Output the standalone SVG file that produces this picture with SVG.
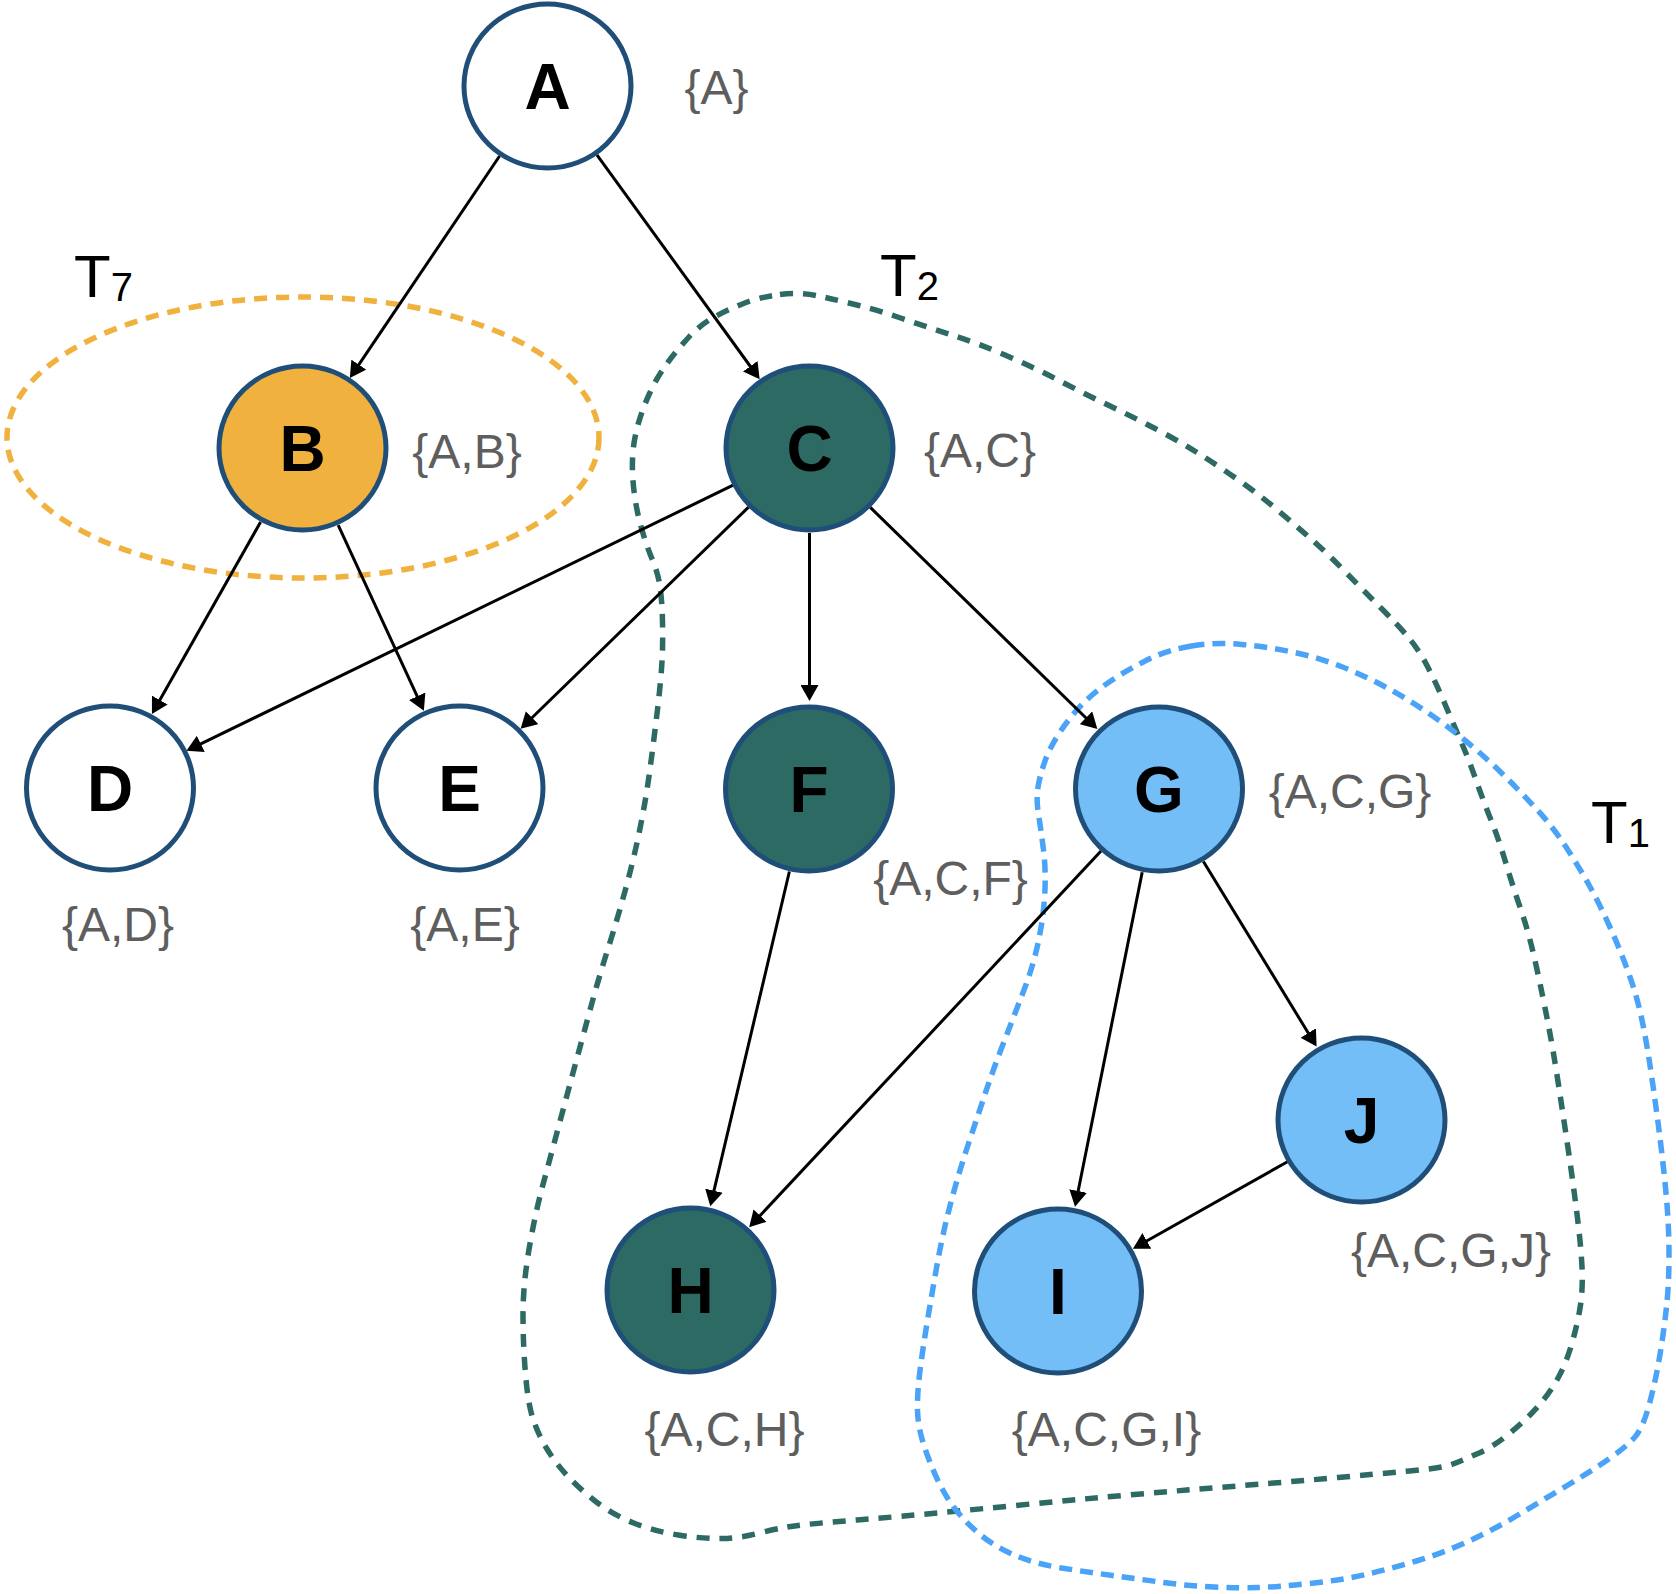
<svg xmlns="http://www.w3.org/2000/svg" width="1676" height="1594" viewBox="0 0 1676 1594">
<defs>
<style>
.bg{fill:#ffffff}
.node{stroke:#1F4E79;stroke-width:5}
.white{fill:#ffffff}
.orange{fill:#F1B13F}
.teal{fill:#2D6A63}
.light{fill:#73BEF7}
.nl{font-family:"Liberation Sans",Arial,sans-serif;font-weight:bold;font-size:64px;fill:#000000;text-anchor:middle}
.lab{font-family:"Liberation Sans",Arial,sans-serif;font-size:48px;fill:#5E5E5E;text-anchor:middle}
.tl{font-family:"Liberation Sans",Arial,sans-serif;font-size:60px;fill:#000000}
.tl tspan{font-size:40px}
.edge{stroke:#000000;stroke-width:3;fill:none;marker-end:url(#arr)}
.g7{fill:none;stroke:#F0B13E;stroke-width:5.5;stroke-dasharray:13 9}
.g2{fill:none;stroke:#2D6A63;stroke-width:5.5;stroke-dasharray:13 10}
.g1{fill:none;stroke:#4AA3F6;stroke-width:5.5;stroke-dasharray:13 8}
</style>
<marker id="arr" markerUnits="userSpaceOnUse" markerWidth="16" markerHeight="18" viewBox="0 0 16 18" refX="12" refY="9" orient="auto">
<path d="M0,0 L16,9 L0,18 Z" fill="#000000"/>
</marker>
</defs>
<rect class="bg" x="0" y="0" width="1676" height="1594"/>

<g id="groups">
<g id="T7">
<ellipse class="g7" cx="303" cy="437.5" rx="296" ry="140.5"/>
<text class="tl" x="74" y="296.5">T<tspan dy="4">7</tspan></text>
</g>
<g id="T2">
<path class="g2" d="M 780,294.5 Q 800,292 818.5,296 Q 837,300 857,305 Q 877,310 902,318.5 Q 927,327 952,335 Q 977,343 1005,355 Q 1033,367 1058,380 Q 1083,393 1108,405 Q 1133,417 1155,428.5 Q 1177,440 1197,452.5 Q 1217,465 1237,479 Q 1257,493 1275,508 Q 1293,523 1310,538 Q 1327,553 1345,571.5 Q 1363,590 1380.5,607.5 Q 1398,625 1408.5,637.5 Q 1419,650 1427.5,666.5 Q 1436,683 1444.5,703 Q 1453,723 1461,741.5 Q 1469,760 1476,780 Q 1483,800 1491,820 Q 1499,840 1506,863.5 Q 1513,887 1521,910 Q 1529,933 1536,965 Q 1543,997 1548,1023 Q 1553,1049 1558,1081.5 Q 1563,1114 1568,1148 Q 1573,1182 1577,1214 Q 1581,1246 1582,1267 Q 1583,1288 1580.5,1305 Q 1578,1322 1572,1343 Q 1566,1364 1557.5,1379 Q 1549,1394 1537.5,1407 Q 1526,1420 1509.5,1433.5 Q 1493,1447 1478,1453.5 Q 1463,1460 1453,1464 Q 1443,1468 1409.5,1471 Q 1376,1474 1338,1477.5 Q 1300,1481 1206,1488.5 Q 1112,1496 1010,1506 Q 908,1516 857,1520 Q 806,1524 790.5,1526.5 Q 775,1529 757.5,1533.5 Q 740,1538 722,1538.5 Q 704,1539 678.5,1535 Q 653,1531 632.5,1522.5 Q 612,1514 597,1502.5 Q 582,1491 569,1477.5 Q 556,1464 547,1449 Q 538,1434 533,1419 Q 528,1404 525.5,1374 Q 523,1344 523,1314.5 Q 523,1285 529,1249.5 Q 535,1214 543,1184.5 Q 551,1155 559,1125 Q 567,1095 575,1065.5 Q 583,1036 591,1006.5 Q 599,977 608.5,947 Q 618,917 626,887.5 Q 634,858 640,828.5 Q 646,799 650,769 Q 654,739 657.5,709.5 Q 661,680 662,661.5 Q 663,643 662.5,621.5 Q 662,600 660,586.5 Q 658,573 652.5,560 Q 647,547 642,530 Q 637,513 634.5,495 Q 632,477 632.5,460 Q 633,443 637.5,426.5 Q 642,410 649.5,393.5 Q 657,377 667,363.5 Q 677,350 688.5,337.5 Q 700,325 713.5,317.5 Q 727,310 743.5,303.5 Q 760,297 780,294.5 Z"/>
<text class="tl" x="880" y="295.5">T<tspan dy="4">2</tspan></text>
</g>
<g id="T1">
<path class="g1" d="M 1191.5,646 Q 1216,642 1241.4,644.4 Q 1266.7,646.7 1291.9,651.9 Q 1317,657 1340,666 Q 1363,675 1384.5,686.5 Q 1406,698 1426,711.5 Q 1446,725 1464.5,740 Q 1483,755 1501,772.5 Q 1519,790 1536,808.5 Q 1553,827 1566,847 Q 1579,867 1589,885 Q 1599,903 1609,925 Q 1619,947 1627.5,970 Q 1636,993 1641,1015.5 Q 1646,1038 1651,1072 Q 1656,1106 1660,1138 Q 1664,1170 1666.5,1198.5 Q 1669,1227 1669,1255.5 Q 1669,1284 1666.5,1307 Q 1664,1330 1660,1354.5 Q 1656,1379 1649.5,1403.5 Q 1643,1428 1634.5,1437.5 Q 1626,1447 1609.5,1458.5 Q 1593,1470 1568,1485 Q 1543,1500 1518,1515 Q 1493,1530 1468,1541.5 Q 1443,1553 1418,1560.5 Q 1393,1568 1368,1574 Q 1343,1580 1309.5,1583.5 Q 1276,1587 1258,1587.5 Q 1240,1588 1214.5,1587 Q 1189,1586 1163.5,1582.5 Q 1138,1579 1112.5,1575.5 Q 1087,1572 1061.5,1568 Q 1036,1564 1015.5,1555.5 Q 995,1547 979.5,1534 Q 964,1521 954,1507.5 Q 944,1494 936.5,1477.5 Q 929,1461 923.5,1444 Q 918,1427 917.5,1410.5 Q 917,1394 920.2,1369 Q 923.5,1344 927.8,1318.5 Q 932,1293 937.3,1263.5 Q 942.6,1234 950.5,1204 Q 958.4,1174 968.2,1144.5 Q 978,1115 986,1091.2 Q 994,1067.5 1004,1041.8 Q 1014,1016 1023.8,990.5 Q 1033.6,965 1038.5,941 Q 1043.5,917 1044.8,893.5 Q 1046,870 1043.5,850 Q 1041,830 1038.5,814.5 Q 1036,799 1038,787 Q 1040,775 1045,761 Q 1050,747 1060,732 Q 1070,717 1081.5,705 Q 1093,693 1110,681.5 Q 1127,670 1147,660 Q 1167,650 1191.5,646 Z"/>
<text class="tl" x="1591" y="843">T<tspan dy="4">1</tspan></text>
</g>
</g>

<g id="connectors">
<line class="edge" x1="499.6" y1="156" x2="352.1" y2="374.6"/>
<line class="edge" x1="596.9" y1="154.8" x2="757.3" y2="376"/>
<line class="edge" x1="260.6" y1="522" x2="153.9" y2="710.5"/>
<line class="edge" x1="338.2" y1="525.2" x2="422.2" y2="707.2"/>
<line class="edge" x1="733.1" y1="485.2" x2="190" y2="749.1"/>
<line class="edge" x1="748.5" y1="507.2" x2="523.5" y2="726"/>
<line class="edge" x1="809.5" y1="533" x2="809.5" y2="697"/>
<line class="edge" x1="870.3" y1="507.4" x2="1094.5" y2="726.2"/>
<line class="edge" x1="789.4" y1="871.5" x2="711.2" y2="1202.4"/>
<line class="edge" x1="1101" y1="851.1" x2="751.9" y2="1224.3"/>
<line class="edge" x1="1142.2" y1="872.3" x2="1075.8" y2="1202.8"/>
<line class="edge" x1="1203.4" y1="861.5" x2="1314.5" y2="1043.2"/>
<line class="edge" x1="1287.5" y1="1161.7" x2="1136.4" y2="1246.8"/>
</g>

<g id="node-A">
<ellipse class="node white" cx="547.5" cy="86" rx="83.5" ry="82"/>
<text class="nl" x="547.5" y="109">A</text>
<text class="lab" x="716.5" y="104">{A}</text>
</g>
<g id="node-B">
<ellipse class="node orange" cx="302.5" cy="448" rx="83.5" ry="82"/>
<text class="nl" x="302.5" y="471">B</text>
<text class="lab" x="467" y="468">{A,B}</text>
</g>
<g id="node-C">
<ellipse class="node teal" cx="809.5" cy="448" rx="83.5" ry="82"/>
<text class="nl" x="809.5" y="471">C</text>
<text class="lab" x="980" y="467">{A,C}</text>
</g>
<g id="node-D">
<ellipse class="node white" cx="110" cy="788" rx="83.5" ry="82"/>
<text class="nl" x="110" y="811">D</text>
<text class="lab" x="118" y="941">{A,D}</text>
</g>
<g id="node-E">
<ellipse class="node white" cx="459.5" cy="788" rx="83.5" ry="82"/>
<text class="nl" x="459.5" y="811">E</text>
<text class="lab" x="465" y="941">{A,E}</text>
</g>
<g id="node-F">
<ellipse class="node teal" cx="809" cy="789" rx="83.5" ry="82"/>
<text class="nl" x="809" y="812">F</text>
<text class="lab" x="950.5" y="895">{A,C,F}</text>
</g>
<g id="node-G">
<ellipse class="node light" cx="1159" cy="789" rx="83.5" ry="82"/>
<text class="nl" x="1159" y="812">G</text>
<text class="lab" x="1350" y="808">{A,C,G}</text>
</g>
<g id="node-H">
<ellipse class="node teal" cx="690.5" cy="1290" rx="83.5" ry="82"/>
<text class="nl" x="690.5" y="1313">H</text>
<text class="lab" x="724.5" y="1446">{A,C,H}</text>
</g>
<g id="node-I">
<ellipse class="node light" cx="1058" cy="1291" rx="83.5" ry="82"/>
<text class="nl" x="1058" y="1314">I</text>
<text class="lab" x="1106.5" y="1446">{A,C,G,I}</text>
</g>
<g id="node-J">
<ellipse class="node light" cx="1361.5" cy="1120" rx="83.5" ry="82"/>
<text class="nl" x="1361.5" y="1143">J</text>
<text class="lab" x="1451" y="1267">{A,C,G,J}</text>
</g>
</svg>
